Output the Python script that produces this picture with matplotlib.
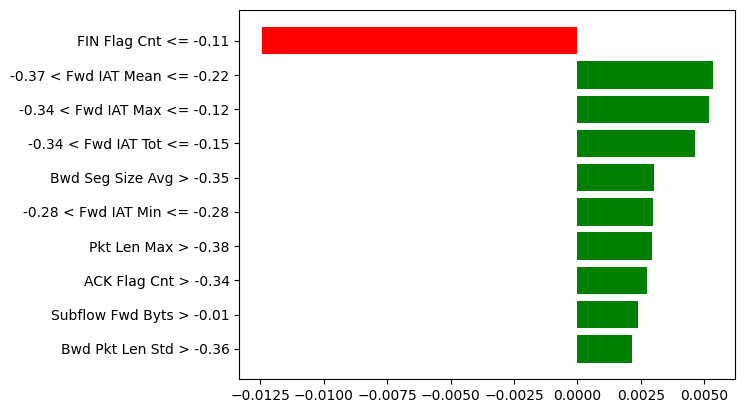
import matplotlib
matplotlib.use("Agg")
import matplotlib.pyplot as plt
import numpy as np

# feature conditions, top to bottom as shown
features = [
    "FIN Flag Cnt <= -0.11",
    "-0.37 < Fwd IAT Mean <= -0.22",
    "-0.34 < Fwd IAT Max <= -0.12",
    "-0.34 < Fwd IAT Tot <= -0.15",
    "Bwd Seg Size Avg > -0.35",
    "-0.28 < Fwd IAT Min <= -0.28",
    "Pkt Len Max > -0.38",
    "ACK Flag Cnt > -0.34",
    "Subflow Fwd Byts > -0.01",
    "Bwd Pkt Len Std > -0.36",
]
weights = [-0.01243, 0.00533, 0.00517, 0.00462, 0.00300,
           0.00297, 0.00293, 0.00273, 0.00238, 0.00214]

# lime-style: reverse so first item sits on top
names = features[::-1]
vals = weights[::-1]
colors = ["green" if v > 0 else "red" for v in vals]
pos = np.arange(len(vals)) + 0.5

fig, ax = plt.subplots(figsize=(7.44, 4.13), dpi=100)
ax.barh(pos, vals, align="center", color=colors)
ax.set_yticks(pos)
ax.set_yticklabels(names)

plt.subplots_adjust(left=0.3217, right=0.9883, top=0.975, bottom=0.0816)
plt.savefig("out.png", dpi=100)
